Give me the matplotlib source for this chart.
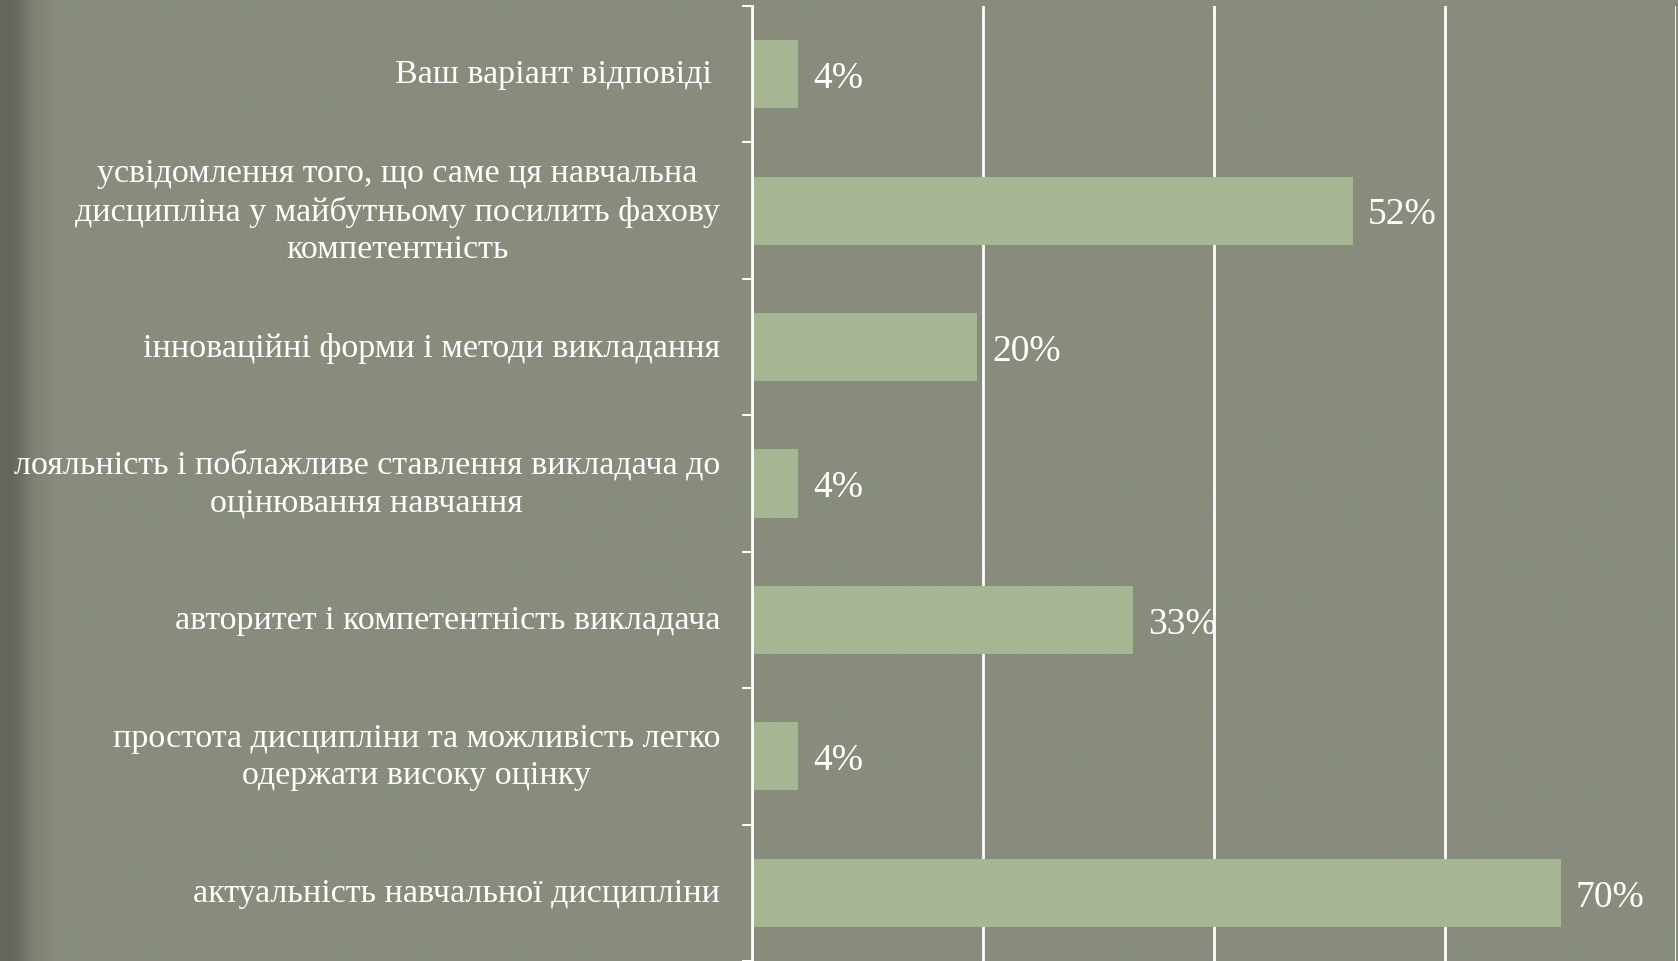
import numpy as np
import matplotlib
matplotlib.use("Agg")
import matplotlib.pyplot as plt

# Дані (зверху вниз)
categories = [
    "Ваш варіант відповіді ",
    "усвідомлення того, що саме ця навчальна\nдисципліна у майбутньому посилить фахову\nкомпетентність",
    "інноваційні форми і методи викладання",
    "лояльність і поблажливе ставлення викладача до\nоцінювання навчання",
    "авторитет і компетентність викладача",
    "простота дисципліни та можливість легко\nодержати високу оцінку",
    "актуальність навчальної дисципліни",
]
values = [0.04, 0.52, 0.195, 0.04, 0.33, 0.04, 0.70]
value_labels = ["4%", "52%", "20%", "4%", "33%", "4%", "70%"]

bg = "#878c7d"
bar_color = "#a6b592"

plt.rcParams["font.family"] = ["Liberation Serif", "DejaVu Serif"]

fig = plt.figure(figsize=(16.78, 9.62), dpi=100, facecolor=bg)

# фон: темніша смуга ліворуч
bgax = fig.add_axes([0, 0, 1, 1], zorder=-1)
xs = np.linspace(0, 1, 800)
shade = np.interp(xs, [0, 0.006, 0.012, 0.02, 0.035, 1], [0.74, 0.72, 0.8, 0.94, 1.0, 1.0])
base = np.array(matplotlib.colors.to_rgb(bg))
img = shade[None, :, None] * base[None, None, :]
bgax.imshow(img, aspect="auto", extent=[0, 1, 0, 1])
bgax.axis("off")

left = 752 / 1678
right = 1676 / 1678
top = 1 - 7 / 962
ax = fig.add_axes([left, 0, right - left, top])
ax.set_facecolor("none")

y = np.arange(len(categories))
ax.barh(y, values, height=0.5, color=bar_color, zorder=2)

for yi, v, lab in zip(y, values, value_labels):
    ax.annotate(lab, (v, yi), xytext=(11, -2.5), textcoords="offset points",
                ha="left", va="center", color="white", fontsize=27)

ax.set_xlim(0, 0.8)
ax.set_ylim(len(categories) - 0.5, -0.5)
ax.set_xticks([0, 0.2, 0.4, 0.6, 0.8])
ax.xaxis.grid(True, color="white", linewidth=2)
ax.set_axisbelow(True)
ax.tick_params(axis="x", length=0, labelbottom=False)

ax.set_yticks(y)
ax.set_yticklabels(categories, multialignment="center", linespacing=1.3, va="center")
ax.set_yticks(np.arange(len(categories) + 1) - 0.5, minor=True)
ax.tick_params(axis="y", which="major", length=0, pad=23, labelsize=24.5, labelcolor="white")
ax.tick_params(axis="y", which="minor", length=7.5, width=1.5, color="white", direction="out")

for s in ["top", "right", "bottom"]:
    ax.spines[s].set_visible(False)
ax.spines["left"].set_color("white")
ax.spines["left"].set_linewidth(2)

fig.savefig("out.png", dpi=100, facecolor=bg)
